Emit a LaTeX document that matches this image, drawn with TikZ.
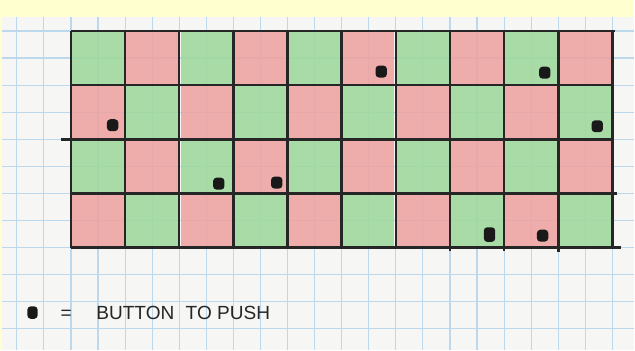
\documentclass[tikz,border=0pt]{standalone}
\usepackage{fontspec}
\newfontfamily\handfont{Liberation Sans}
\usepackage{xcolor}
\usepackage{tikz}
\usetikzlibrary{positioning}
\definecolor{scanyellow}{RGB}{255,255,208}
\definecolor{paperwhite}{RGB}{246,246,244}
\definecolor{paperblue}{RGB}{188,216,236}
\definecolor{pencilgreen}{RGB}{158,216,156}
\definecolor{pencilred}{RGB}{238,162,162}

\begin{document}
\begin{tikzpicture}[
  gcell/.style     = {rectangle, fill=pencilgreen, fill opacity=0.88, minimum size=0.95cm, inner sep=0pt},
  rcell/.style     = {rectangle, fill=pencilred, fill opacity=0.88, minimum size=0.95cm, inner sep=0pt},
  btn/.style       = {rectangle, rounded corners=1.8pt, fill=black!90, minimum width=0.21cm, minimum height=0.22cm, inner sep=0pt},
  ink/.style       = {line width=1.3pt, black!85},
  paperline/.style = {line width=0.6pt, paperblue},
  legendtext/.style = {font=\handfont\fontsize{10}{12}\selectfont, inner sep=0pt, text=black!85},
]
% Scanned sheet
\fill[scanyellow] (-1.31,-1.886) rectangle (10.406,4.572);
\fill[paperwhite] (-1.27,-1.886) rectangle (10.406,4.258);
\draw[paperline] (-1.27,-1.886) grid[step=0.5] (10.406,4.258);
% Top row
\node[gcell] (r1c1)  at (0.5,3.5) {};
\node[rcell] (r1c2)  at (1.5,3.5) {};
\node[gcell] (r1c3)  at (2.5,3.5) {};
\node[rcell] (r1c4)  at (3.5,3.5) {};
\node[gcell] (r1c5)  at (4.5,3.5) {};
\node[rcell] (r1c6)  at (5.5,3.5) {};
\node[gcell] (r1c7)  at (6.5,3.5) {};
\node[rcell] (r1c8)  at (7.5,3.5) {};
\node[gcell] (r1c9)  at (8.5,3.5) {};
\node[rcell] (r1c10) at (9.5,3.5) {};
% Second row
\node[rcell] (r2c1)  at (0.5,2.5) {};
\node[gcell] (r2c2)  at (1.5,2.5) {};
\node[rcell] (r2c3)  at (2.5,2.5) {};
\node[gcell] (r2c4)  at (3.5,2.5) {};
\node[rcell] (r2c5)  at (4.5,2.5) {};
\node[gcell] (r2c6)  at (5.5,2.5) {};
\node[rcell] (r2c7)  at (6.5,2.5) {};
\node[gcell] (r2c8)  at (7.5,2.5) {};
\node[rcell] (r2c9)  at (8.5,2.5) {};
\node[gcell] (r2c10) at (9.5,2.5) {};
% Third row
\node[gcell] (r3c1)  at (0.5,1.5) {};
\node[rcell] (r3c2)  at (1.5,1.5) {};
\node[gcell] (r3c3)  at (2.5,1.5) {};
\node[rcell] (r3c4)  at (3.5,1.5) {};
\node[gcell] (r3c5)  at (4.5,1.5) {};
\node[rcell] (r3c6)  at (5.5,1.5) {};
\node[gcell] (r3c7)  at (6.5,1.5) {};
\node[rcell] (r3c8)  at (7.5,1.5) {};
\node[gcell] (r3c9)  at (8.5,1.5) {};
\node[rcell] (r3c10) at (9.5,1.5) {};
% Bottom row
\node[rcell] (r4c1)  at (0.5,0.5) {};
\node[gcell] (r4c2)  at (1.5,0.5) {};
\node[rcell] (r4c3)  at (2.5,0.5) {};
\node[gcell] (r4c4)  at (3.5,0.5) {};
\node[rcell] (r4c5)  at (4.5,0.5) {};
\node[gcell] (r4c6)  at (5.5,0.5) {};
\node[rcell] (r4c7)  at (6.5,0.5) {};
\node[gcell] (r4c8)  at (7.5,0.5) {};
\node[rcell] (r4c9)  at (8.5,0.5) {};
\node[gcell] (r4c10) at (9.5,0.5) {};
% Pen lines
\draw[ink] (0,0) grid (10,4);
\draw[ink] (-0.18,2) -- (0,2);
\draw[ink] (10,4) -- (10.04,4);
\draw[ink] (10,1) -- (10.08,1);
\draw[ink] (10,0) -- (10.15,0);
\draw[ink] (7,0) -- (7,-0.06);
\draw[ink] (8,0) -- (8,-0.06);
\draw[ink] (9,0) -- (9,-0.09);
% Buttons
\node[btn] (p1c6)  at (5.73,3.25) {};
\node[btn] (p1c9)  at (8.75,3.23) {};
\node[btn] (p2c1)  at (0.77,2.26) {};
\node[btn] (p2c10) at (9.72,2.24) {};
\node[btn] (p3c3)  at (2.73,1.18) {};
\node[btn] (p3c4)  at (3.80,1.20) {};
\node[btn, minimum height=0.27cm] (p4c8) at (7.73,0.24) {};
\node[btn] (p4c9)  at (8.71,0.22) {};
% Legend
\node[btn, minimum width=0.19cm, minimum height=0.23cm] (key) at (-0.71,-1.2) {};
\node[legendtext, right=0.41cm of key] (keytext) {=\hspace{13pt}BUTTON\hspace{6pt}TO PUSH};
\end{tikzpicture}
\end{document}
